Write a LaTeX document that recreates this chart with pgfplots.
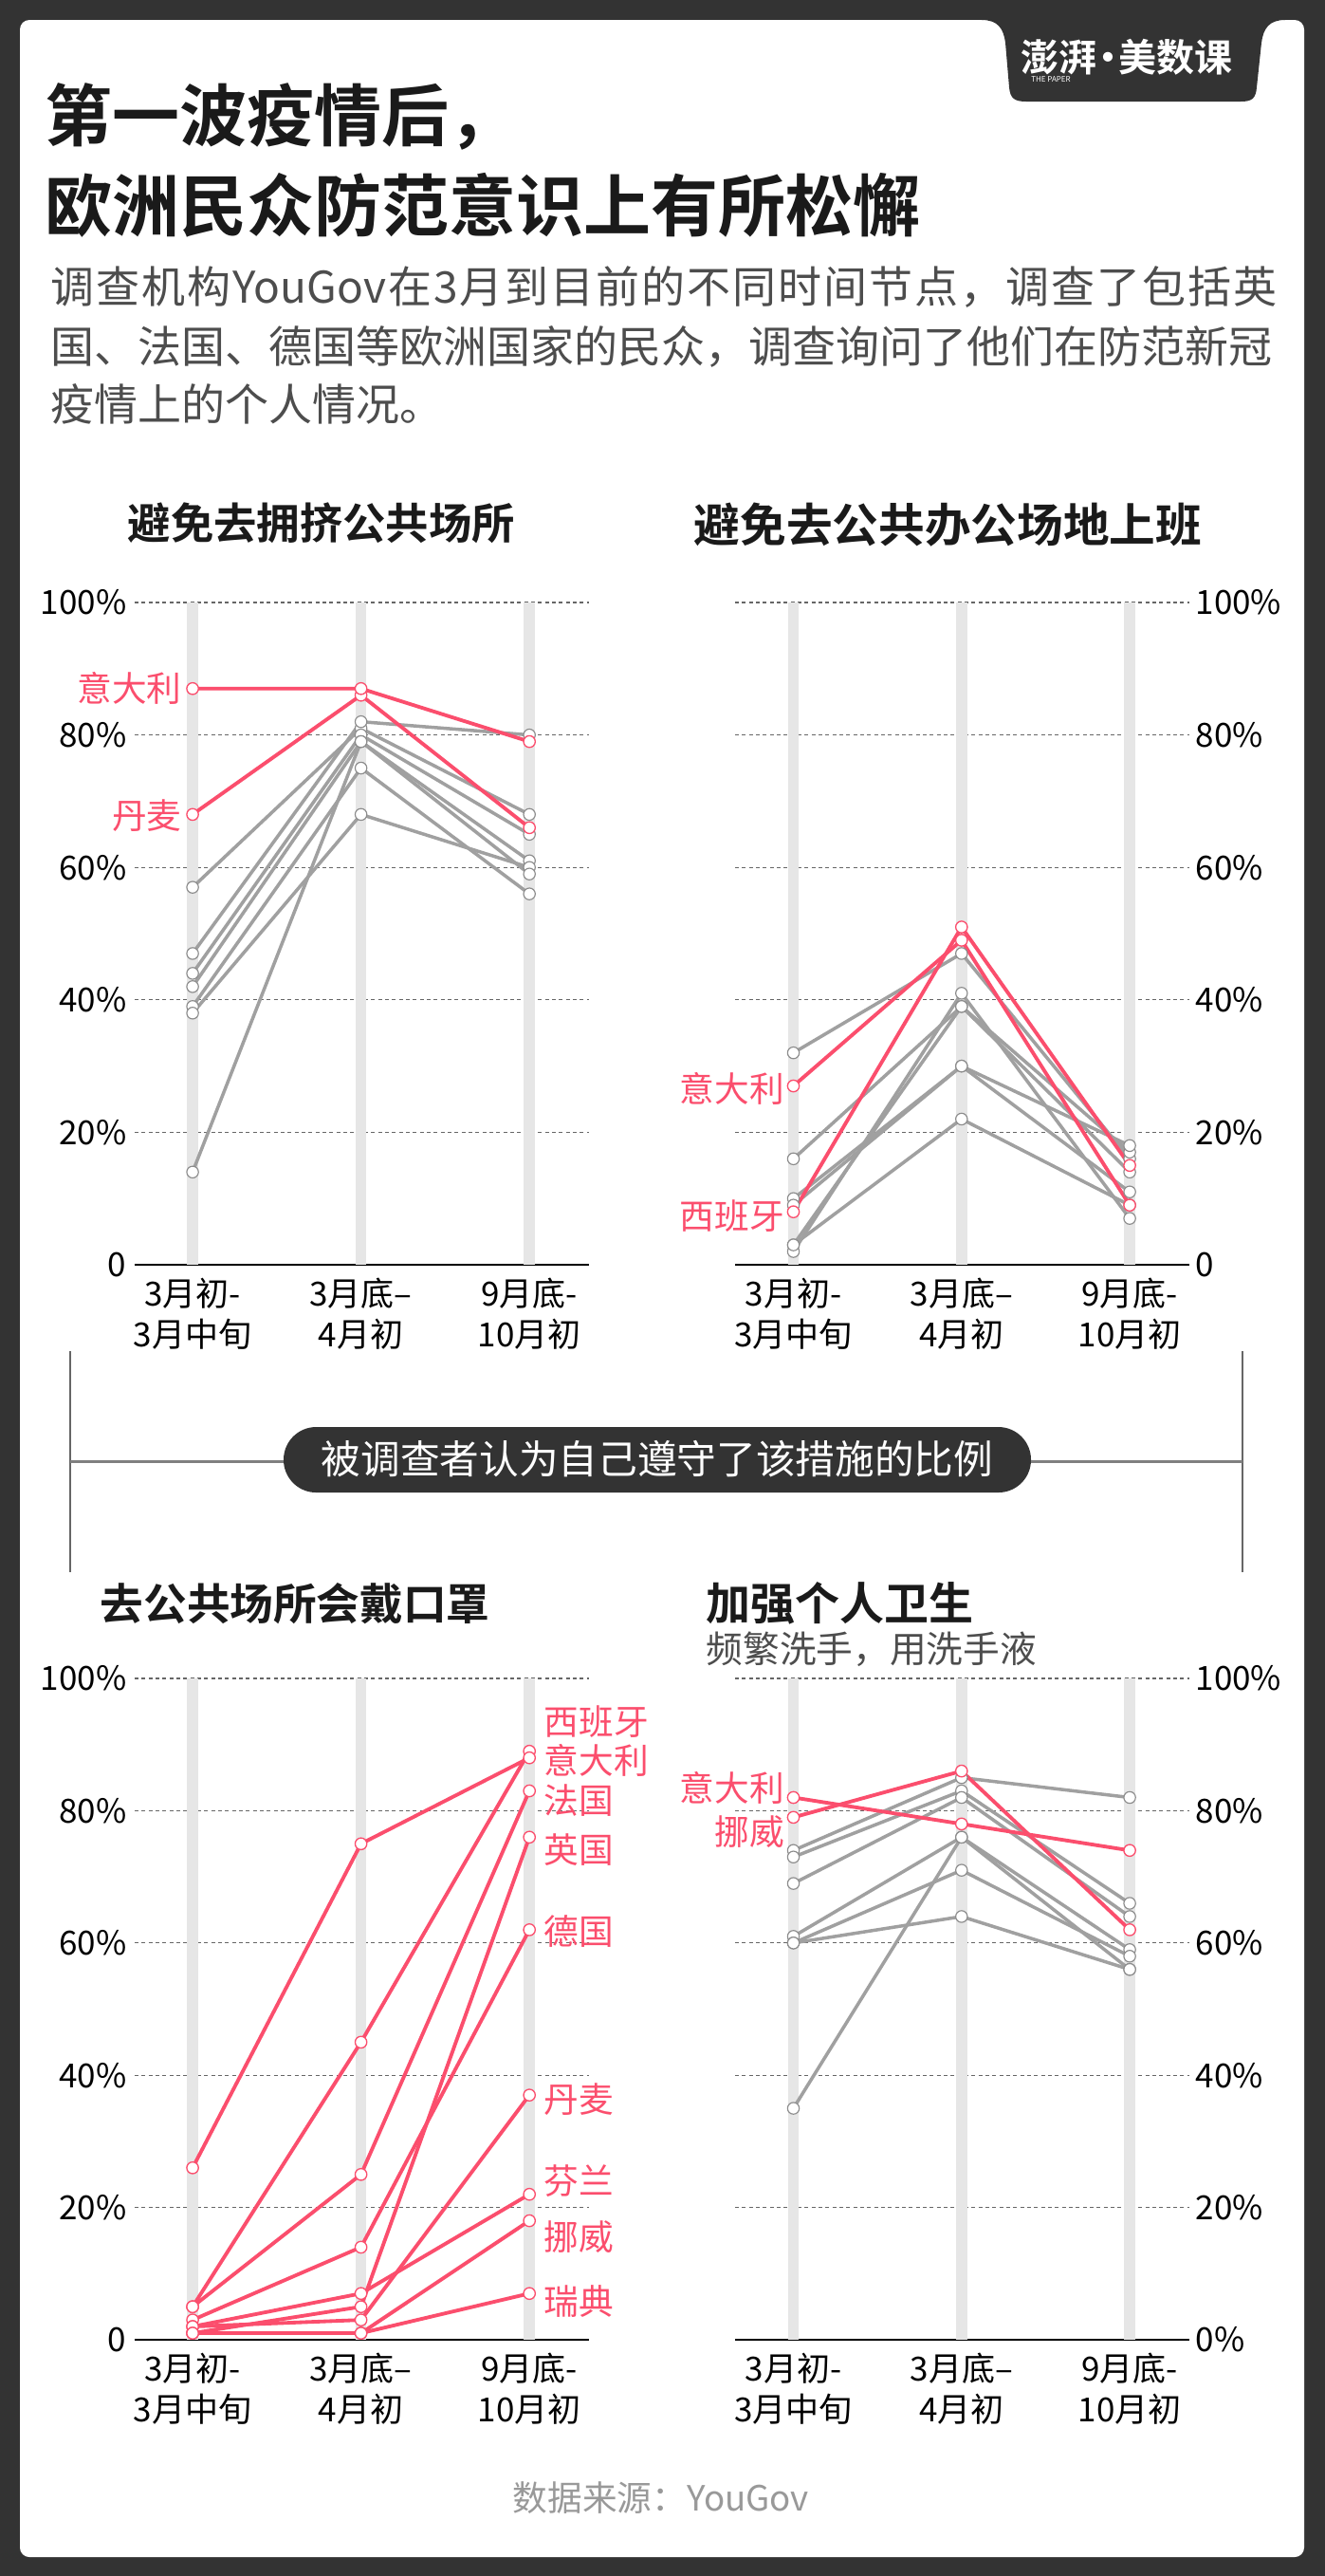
\documentclass[border=0pt]{standalone}
\usepackage{fontspec}
\setmainfont{Noto Sans CJK SC}[BoldFont={Noto Sans CJK SC Bold}]
\usepackage{pgfplots}
\usepackage{pgfplotstable}
\pgfplotsset{compat=1.18}

\definecolor{darkc}{HTML}{333333}
\definecolor{redc}{HTML}{FB4E6D}
\definecolor{greyc}{HTML}{A0A0A0}
\definecolor{mkgrey}{HTML}{8C8C8C}
\definecolor{barc}{HTML}{E6E6E6}
\definecolor{gridc}{HTML}{666666}
\definecolor{titc}{HTML}{1A1A1A}
\definecolor{subc}{HTML}{4D4D4D}
\definecolor{footc}{HTML}{999999}

% avoid crowded public places
\pgfplotstableread{
x it dk g1 g2 g3 g4 g5 g6 g7
0 87 68 57 47 44 42 39 38 14
1 87 86 81 82 80 79 75 68 79
2 79 66 68 80 65 61 56 60 59
}\TLdata
% avoid public offices
\pgfplotstableread{
x it es g1 g2 g3 g4 g5 g6 g7
0 27 8  32 16 10 9  3  2  3
1 49 51 47 39 30 30 22 41 39
2 9  15 16 17 18 11 9  7  14
}\TRdata
% masks
\pgfplotstableread{
x es it fr uk de dk fi no se
0 5  26 5  1  3  2  2  1  1
1 45 75 25 5  14 3  7  1  1
2 89 88 83 76 62 37 22 18 7
}\BLdata
% hygiene
\pgfplotstableread{
x it no g1 g2 g3 g4 g5 g6 g7
0 82 79 74 73 69 61 60 35 60
1 78 86 85 83 82 76 71 76 64
2 74 62 82 66 64 59 58 56 56
}\BRdata

\newcommand\tickf{\fontsize{10.5}{12.9}\selectfont}
\newcommand\labf{\fontsize{11}{13}\selectfont}

\pgfplotsset{
  chart/.style={
    scale only axis, height=209.4pt, width=143.6pt,
    ymin=0, ymax=100,
    clip=false,
    xtick={0,1,2},
    xticklabels={{3月初-\\3月中旬},{3月底–\\4月初},{9月底-\\10月初}},
    ytick={0,20,40,60,80,100},
    major tick length=0pt,
    axis x line*=bottom,
    x axis line style={black, line width=0.7pt},
    y axis line style={draw=none},
    ymajorgrids,
    major grid style={gridc, line width=0.35pt, dash pattern=on 1.2pt off 1pt},
    tick label style={font=\tickf, inner sep=0pt},
    xticklabel style={align=center, yshift=-4pt},
  },
  leftchart/.style={chart, xmin=-0.344, xmax=2.352, axis y line*=left, yticklabel style={xshift=-2.4pt}},
  rightchart/.style={chart, xmin=-0.347, xmax=2.353, axis y line*=right, yticklabel style={xshift=1.9pt}},
  greyl/.style={draw=greyc, line width=1.05pt, mark=none},
  redl/.style={draw=redc, line width=1.15pt, mark=none},
  greym/.style={only marks, mark=*, mark size=1.85pt, mark options={fill=white, draw=mkgrey, line width=0.35pt}},
  redm/.style={only marks, mark=*, mark size=1.85pt, mark options={fill=white, draw=redc, line width=0.4pt}},
  barl/.style={draw=barc, line width=3.5pt, forget plot},
}
\tikzset{lab/.style={text=redc, font=\labf, inner sep=0pt}}

\newcommand\colbars{%
  \addplot[barl] coordinates {(0,0) (0,100)};
  \addplot[barl] coordinates {(1,0) (1,100)};
  \addplot[barl] coordinates {(2,0) (2,100)};
}

\begin{document}
\begin{tikzpicture}
\useasboundingbox (0,0) rectangle (419.1pt,-814.5pt);
\begin{scope}[x=0.3pt,y=-0.3pt]
  \fill[darkc] (0,0) rectangle (1397,2715);
  \fill[white, rounded corners=3pt] (21,21) rectangle (1375,2695);
  % logo tab
  \fill[darkc] (1035,21) .. controls (1052,21) and (1058,30) .. (1060,45) -- (1064,92)
     .. controls (1065,104) and (1070,107) .. (1082,107) -- (1308,107)
     .. controls (1320,107) and (1324,104) .. (1325,92) -- (1330,45)
     .. controls (1332,30) and (1338,21) .. (1355,21) -- cycle;
  \node[text=white, font=\bfseries\fontsize{12}{14}\selectfont, inner sep=0pt] at (1188,60) {澎湃\kern-0.22em·\kern-0.22em美数课};
  \node[text=white, font=\fontsize{2.4}{3}\selectfont, inner sep=0pt] at (1108,84) {THE PAPER};
  % title
  \node[anchor=west, inner sep=0pt, text=titc, font=\bfseries\fontsize{21.3}{25}\selectfont] at (47,123) {第一波疫情后，};
  \node[anchor=west, inner sep=0pt, text=titc, font=\bfseries\fontsize{21.3}{25}\selectfont] at (47,216) {欧洲民众防范意识上有所松懈};
  % subtitle
  \node[anchor=west, inner sep=0pt, text=subc, font=\fontsize{13.8}{16}\selectfont] at (53,303) {\makebox[387.9pt][s]{调\hfill 查\hfill 机\hfill 构\hfill YouGov\hfill 在\hfill 3\hfill 月\hfill 到\hfill 目\hfill 前\hfill 的\hfill 不\hfill 同\hfill 时\hfill 间\hfill 节\hfill 点\hfill ，\hfill 调\hfill 查\hfill 了\hfill 包\hfill 括\hfill 英}};
  \node[anchor=west, inner sep=0pt, text=subc, font=\fontsize{13.8}{16}\selectfont] at (53,365) {国、法国、德国等欧洲国家的民众，调查询问了他们在防范新冠};
  \node[anchor=west, inner sep=0pt, text=subc, font=\fontsize{13.8}{16}\selectfont] at (53,426) {疫情上的个人情况。};
  % chart titles
  \node[anchor=west, inner sep=0pt, text=titc, font=\bfseries\fontsize{13.6}{16}\selectfont] at (134,551) {避免去拥挤公共场所};
  \node[anchor=west, inner sep=0pt, text=titc, font=\bfseries\fontsize{14.6}{17}\selectfont] at (731,553) {避免去公共办公场地上班};
  \node[anchor=west, inner sep=0pt, text=titc, font=\bfseries\fontsize{13.7}{16}\selectfont] at (105,1690) {去公共场所会戴口罩};
  \node[anchor=west, inner sep=0pt, text=titc, font=\bfseries\fontsize{14.1}{16}\selectfont] at (744,1690) {加强个人卫生};
  \node[anchor=west, inner sep=0pt, text=subc, font=\fontsize{11.6}{14}\selectfont] at (744,1738) {频繁洗手，用洗手液};
  % divider
  \draw[gridc, line width=0.45pt] (74,1424) -- (74,1657);
  \draw[gridc, line width=0.45pt] (1310,1424) -- (1310,1657);
  \draw[gray, line width=0.9pt] (74,1540) -- (1310,1540);
  \fill[darkc, rounded corners=10.3pt] (299,1504) rectangle (1087,1573);
  \node[text=white, inner sep=0pt, font=\fontsize{12.5}{14}\selectfont] at (693,1538) {被调查者认为自己遵守了该措施的比例};
  % footer
  \node[text=footc, inner sep=0pt, font=\fontsize{11}{13}\selectfont] at (697,2633) {数据来源：YouGov};
\end{scope}

% ---- top left
\begin{axis}[leftchart, at={(42.6pt,-399.9pt)}, anchor=south west,
  yticklabels={0,20\%,40\%,60\%,80\%,100\%}]
\colbars
\pgfplotsinvokeforeach{g1,g2,g3,g4,g5,g6,g7}{\addplot[greyl] table[x=x,y=#1]{\TLdata};}
\addplot[redl] table[x=x,y=dk]{\TLdata};
\addplot[redl] table[x=x,y=it]{\TLdata};
\pgfplotsinvokeforeach{g1,g2,g3,g4,g5,g6,g7}{\addplot[greym] table[x=x,y=#1]{\TLdata};}
\addplot[redm] table[x=x,y=dk]{\TLdata};
\addplot[redm] table[x=x,y=it]{\TLdata};
\node[lab, anchor=east, xshift=-3.3pt] at (axis cs:0,87) {意大利};
\node[lab, anchor=east, xshift=-3.3pt] at (axis cs:0,67.8) {丹麦};
\end{axis}

% ---- top right
\begin{axis}[rightchart, at={(232.5pt,-399.9pt)}, anchor=south west,
  yticklabels={0,20\%,40\%,60\%,80\%,100\%}]
\colbars
\pgfplotsinvokeforeach{g1,g2,g3,g4,g5,g6,g7}{\addplot[greyl] table[x=x,y=#1]{\TRdata};}
\addplot[redl] table[x=x,y=it]{\TRdata};
\addplot[redl] table[x=x,y=es]{\TRdata};
\pgfplotsinvokeforeach{g1,g2,g3,g4,g5,g6,g7}{\addplot[greym] table[x=x,y=#1]{\TRdata};}
\addplot[redm] table[x=x,y=it]{\TRdata};
\addplot[redm] table[x=x,y=es]{\TRdata};
\node[lab, anchor=east, xshift=-2.7pt] at (axis cs:0,26.6) {意大利};
\node[lab, anchor=east, xshift=-2.7pt] at (axis cs:0,7.3) {西班牙};
\end{axis}

% ---- bottom left
\begin{axis}[leftchart, at={(42.6pt,-739.8pt)}, anchor=south west, height=209.1pt,
  yticklabels={0,20\%,40\%,60\%,80\%,100\%}]
\colbars
\pgfplotsinvokeforeach{es,it,fr,uk,de,dk,fi,no,se}{\addplot[redl] table[x=x,y=#1]{\BLdata};}
\pgfplotsinvokeforeach{es,it,fr,uk,de,dk,fi,no,se}{\addplot[redm] table[x=x,y=#1]{\BLdata};}
\node[lab, anchor=west, xshift=4.5pt] at (axis cs:2,93.5) {西班牙};
\node[lab, anchor=west, xshift=4.5pt] at (axis cs:2,87.6) {意大利};
\node[lab, anchor=west, xshift=4.5pt] at (axis cs:2,81.6) {法国};
\node[lab, anchor=west, xshift=4.5pt] at (axis cs:2,74.1) {英国};
\node[lab, anchor=west, xshift=4.5pt] at (axis cs:2,61.7) {德国};
\node[lab, anchor=west, xshift=4.5pt] at (axis cs:2,36.4) {丹麦};
\node[lab, anchor=west, xshift=4.5pt] at (axis cs:2,24.0) {芬兰};
\node[lab, anchor=west, xshift=4.5pt] at (axis cs:2,15.6) {挪威};
\node[lab, anchor=west, xshift=4.5pt] at (axis cs:2,5.8) {瑞典};
\end{axis}

% ---- bottom right
\begin{axis}[rightchart, at={(232.5pt,-739.8pt)}, anchor=south west, height=209.1pt,
  yticklabels={0\%,20\%,40\%,60\%,80\%,100\%}]
\colbars
\pgfplotsinvokeforeach{g1,g2,g3,g4,g5,g6,g7}{\addplot[greyl] table[x=x,y=#1]{\BRdata};}
\addplot[redl] table[x=x,y=it]{\BRdata};
\addplot[redl] table[x=x,y=no]{\BRdata};
\pgfplotsinvokeforeach{g1,g2,g3,g4,g5,g6,g7}{\addplot[greym] table[x=x,y=#1]{\BRdata};}
\addplot[redm] table[x=x,y=it]{\BRdata};
\addplot[redm] table[x=x,y=no]{\BRdata};
\node[lab, anchor=east, xshift=-2.7pt] at (axis cs:0,83.5) {意大利};
\node[lab, anchor=east, xshift=-2.7pt] at (axis cs:0,76.8) {挪威};
\end{axis}
\end{tikzpicture}
\end{document}
